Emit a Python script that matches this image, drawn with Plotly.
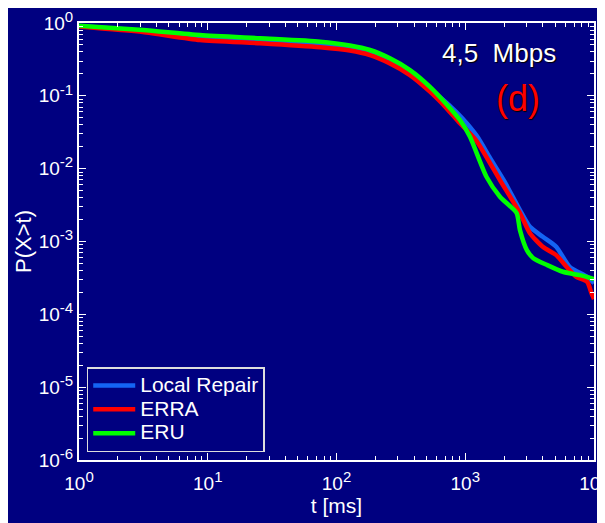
import plotly.graph_objects as go

# ---- data ----
t_lr = [1, 3.14, 8.7, 25.5, 74.5, 127, 182, 260, 372, 532, 735, 944, 1233, 1557, 2030, 2660, 3180, 4000, 5090, 6470, 8860, 10000]
p_lr = [0.91, 0.78, 0.64, 0.575, 0.515, 0.455, 0.393, 0.30, 0.21, 0.125, 0.077, 0.0496, 0.0280, 0.0140, 0.00654, 0.0027, 0.00159, 0.00116, 0.000846, 0.000449, 0.000327, 0.000268]

t_erra = [1, 3.14, 8.7, 25.5, 74.5, 127, 182, 260, 372, 532, 718, 910, 1211, 1860, 2660, 3180, 4000, 5090, 6120, 7300, 8860, 9560, 10000]
p_erra = [0.895, 0.752, 0.584, 0.526, 0.464, 0.419, 0.363, 0.279, 0.193, 0.114, 0.0673, 0.0419, 0.0247, 0.00697, 0.00246, 0.0013, 0.000846, 0.00065, 0.00045, 0.000327, 0.000279, 0.000195, 0.000162]

t_eru = [1, 3.14, 8.7, 25.5, 74.5, 127, 182, 260, 372, 532, 718, 910, 1088, 1461, 1860, 2505, 2660, 3010, 3380, 4340, 5730, 7780, 10000]
p_eru = [0.918, 0.801, 0.684, 0.616, 0.554, 0.491, 0.426, 0.327, 0.226, 0.133, 0.0762, 0.0465, 0.0274, 0.00775, 0.00411, 0.00246, 0.00143, 0.00076, 0.00059, 0.000474, 0.000384, 0.000345, 0.000305]

series_names = ["Local Repair", "ERRA", "ERU"]

x_tickvals = [1, 10, 100, 1000, 10000]
x_exponents = ["0", "1", "2", "3", "4"]
y_tickvals = [1e-6, 1e-5, 1e-4, 1e-3, 1e-2, 1e-1, 1]
y_exponents = ["-6", "-5", "-4", "-3", "-2", "-1", "0"]


def pow_label(e):
    return '10<sup><span style="font-size:15px">' + e + '</span></sup>'


def legend_label(name):
    return '<span style="font-size:21px">' + name + '</span>'


NAVY = "#000080"
FONT = "Liberation Sans, Arial, sans-serif"

fig = go.Figure()
fig.add_trace(go.Scatter(x=t_lr, y=p_lr, mode="lines", name=legend_label(series_names[0]),
                         line=dict(color="#1464F4", width=4.5, shape="spline", smoothing=0.6)))
fig.add_trace(go.Scatter(x=t_erra, y=p_erra, mode="lines", name=legend_label(series_names[1]),
                         line=dict(color="#FF0000", width=4.5, shape="spline", smoothing=0.6)))
fig.add_trace(go.Scatter(x=t_eru, y=p_eru, mode="lines", name=legend_label(series_names[2]),
                         line=dict(color="#00FF00", width=4.5, shape="spline", smoothing=0.6)))

axis_common = dict(
    type="log", showgrid=False, zeroline=False, automargin=False,
    showline=True, linecolor="white", linewidth=2, mirror="ticks",
    ticks="inside", ticklen=7, tickcolor="white", tickwidth=1,
    minor=dict(ticks="inside", ticklen=4, tickcolor="white", tickwidth=1, dtick="D1", showgrid=False),
    tickfont=dict(family=FONT, size=19, color="white"),
    ticklabeloverflow="allow",
)

fig.update_xaxes(**axis_common, range=[0, 4], tickvals=x_tickvals,
                 ticktext=[pow_label(e) for e in x_exponents],
                 ticklabelstandoff=5,
                 title=dict(text="t [ms]", font=dict(family=FONT, size=21, color="white"), standoff=6))
fig.update_yaxes(**axis_common, range=[-6, 0], tickvals=y_tickvals,
                 ticktext=[pow_label(e) for e in y_exponents],
                 ticklabelstandoff=0,
                 title=dict(text="P(X>t)", font=dict(family=FONT, size=22, color="white"), standoff=1))

fig.add_annotation(x=0.8165, y=0.931, xref="paper", yref="paper", text="4,5  Mbps", showarrow=False,
                   xanchor="center", yanchor="middle",
                   font=dict(family=FONT, size=26, color="white", shadow="1px 1px 1px #000000"))
fig.add_annotation(x=0.8515, y=0.828, xref="paper", yref="paper", text="(d)", showarrow=False,
                   xanchor="center", yanchor="middle",
                   font=dict(family=FONT, size=36, color="#FF0000", shadow="1px 1px 1px #000000"))

# the page body adds an 8px offset; margins compensate so the plot area lands at 79..594 x 23..460
fig.update_layout(
    width=605, height=523,
    margin=dict(l=71, r=19, t=15, b=71),
    paper_bgcolor=NAVY, plot_bgcolor=NAVY,
    font=dict(family=FONT, color="white"),
    legend=dict(x=0.015, y=0.018, xanchor="left", yanchor="bottom",
                bgcolor=NAVY, bordercolor="#DDDDDD", borderwidth=1.5,
                font=dict(family=FONT, size=16, color="white"),
                tracegroupgap=0, itemwidth=42),
    showlegend=True,
)

fig.write_html("out.html")
